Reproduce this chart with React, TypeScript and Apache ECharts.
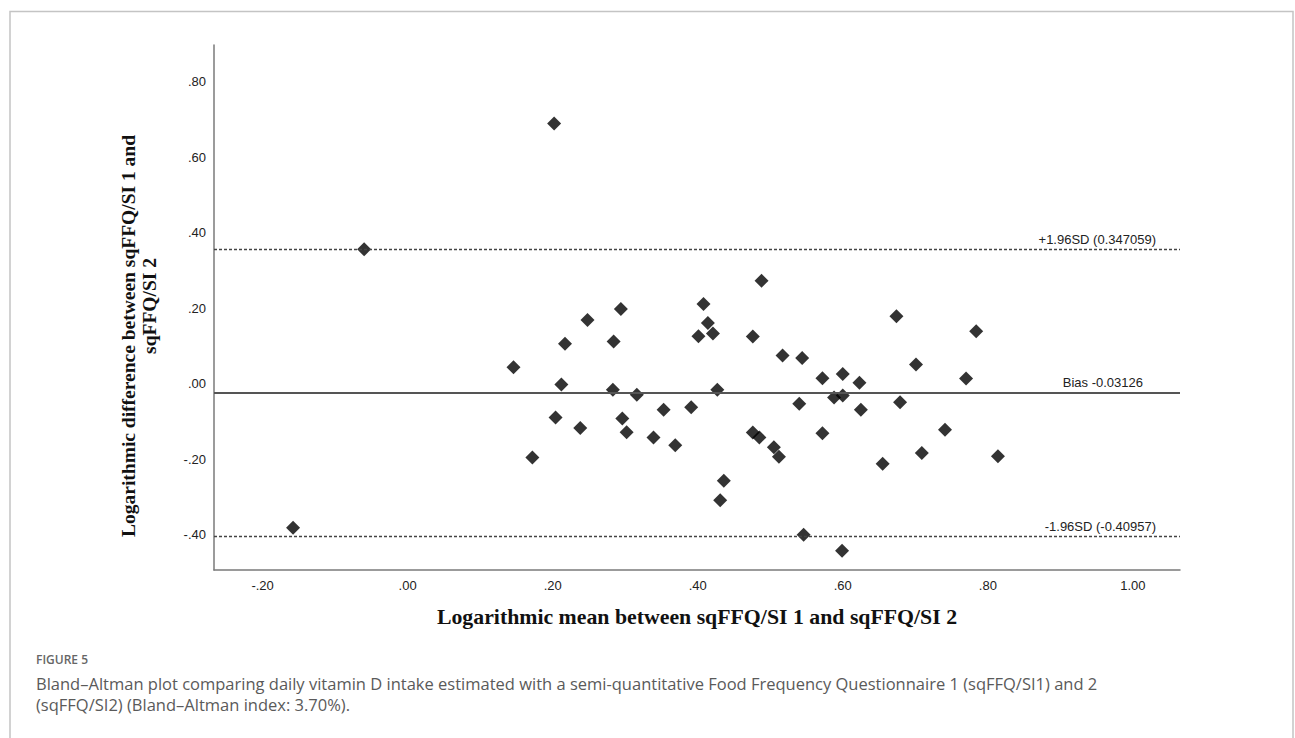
import React, { useEffect, useRef } from "react";
import * as echarts from "echarts";

// Logarithmic mean between sqFFQ/SI 1 and sqFFQ/SI 2 (x)
const meanValues = [
  -0.158, -0.06, 0.202, 0.146, 0.212, 0.217, 0.204, 0.172, 0.248, 0.238,
  0.284, 0.283, 0.294, 0.296, 0.302, 0.316, 0.339, 0.353, 0.369, 0.391,
  0.401, 0.408, 0.414, 0.421, 0.427, 0.431, 0.436, 0.476, 0.476, 0.485,
  0.488, 0.505, 0.512, 0.517, 0.54, 0.544, 0.546, 0.572, 0.572, 0.588,
  0.6, 0.6, 0.599, 0.623, 0.625, 0.655, 0.674, 0.679, 0.701, 0.709,
  0.741, 0.77, 0.784, 0.814,
];
// Logarithmic difference between sqFFQ/SI 1 and sqFFQ/SI 2 (y)
const diffValues = [
  -0.388, 0.349, 0.682, 0.037, -0.009, 0.099, -0.096, -0.202, 0.162, -0.124,
  0.105, -0.023, 0.191, -0.099, -0.135, -0.036, -0.149, -0.076, -0.17, -0.069,
  0.119, 0.204, 0.154, 0.126, -0.023, -0.315, -0.264, 0.118, -0.136, -0.149,
  0.266, -0.175, -0.2, 0.068, -0.06, 0.061, -0.407, 0.008, -0.138, -0.043,
  0.019, -0.038, -0.449, -0.004, -0.076, -0.219, 0.172, -0.056, 0.044, -0.19,
  -0.129, 0.007, 0.132, -0.199,
];

const xTickValues = [-0.2, 0, 0.2, 0.4, 0.6, 0.8, 1.0];
const yTickValues = [-0.4, -0.2, 0, 0.2, 0.4, 0.6, 0.8];

const refValues = [0.347059, -0.03126, -0.40957];
const refLabels = ["+1.96SD (0.347059)", "Bias -0.03126", "-1.96SD (-0.40957)"];
const refDashed = [true, false, true];

const xTitle = "Logarithmic mean between sqFFQ/SI 1 and sqFFQ/SI 2";
const yTitleLines = ["Logarithmic difference between sqFFQ/SI 1 and", "sqFFQ/SI 2"];
const captionHead = "FIGURE 5";
const captionLines = [
  "Bland\u2013Altman plot comparing daily vitamin D intake estimated with a semi-quantitative Food Frequency Questionnaire 1 (sqFFQ/SI1) and 2",
  "(sqFFQ/SI2) (Bland\u2013Altman index: 3.70%).",
];

const fmt = (v: number) => v.toFixed(2).replace(/^(-?)0\./, "$1.");

export default function App() {
  const ref = useRef<HTMLDivElement>(null);

  useEffect(() => {
    if (!ref.current) return;
    const chart = echarts.init(ref.current, undefined, { renderer: "svg" });
    const serifBold = 'bold 19.5px "Liberation Serif", serif';
    const axisLineStyle = { color: "#7a7a7a", width: 1.5 };
    const tickLabel = {
      color: "#222",
      fontSize: 13,
      fontFamily: '"Liberation Sans", Arial, sans-serif',
    };

    chart.setOption({
      animation: false,
      backgroundColor: "#fff",
      grid: { left: 214, top: 45, right: 115, bottom: 168, containLabel: false },
      xAxis: {
        type: "value",
        min: -0.267,
        max: 1.065,
        name: xTitle,
        nameLocation: "middle",
        nameGap: 36,
        nameTextStyle: {
          fontFamily: '"Liberation Serif", serif',
          fontWeight: "bold",
          fontSize: 21.8,
          color: "#111",
        },
        axisLine: { show: true, onZero: false, lineStyle: axisLineStyle },
        axisTick: { show: false, customValues: xTickValues },
        splitLine: { show: false },
        axisLabel: {
          ...tickLabel,
          margin: 9,
          customValues: xTickValues,
          formatter: (v: number) => fmt(v),
        },
      },
      yAxis: {
        type: "value",
        min: -0.5,
        max: 0.89,
        axisLine: { show: true, onZero: false, lineStyle: axisLineStyle },
        axisTick: { show: false, customValues: yTickValues },
        splitLine: { show: false },
        axisLabel: {
          ...tickLabel,
          margin: 8,
          verticalAlign: "top",
          lineHeight: 5,
          customValues: yTickValues,
          formatter: (v: number) => fmt(v),
        },
      },
      graphic: [
        {
          type: "rect",
          silent: true,
          shape: { x: 10, y: 11.5, width: 1283, height: 740 },
          style: { fill: "none", stroke: "#c4c4c4", lineWidth: 1.5 },
        },
        {
          type: "text",
          x: 128,
          y: 336,
          rotation: Math.PI / 2,
          style: {
            text: yTitleLines[0],
            font: serifBold,
            fill: "#111",
            align: "center",
            verticalAlign: "middle",
          },
        },
        {
          type: "text",
          x: 149,
          y: 306,
          rotation: Math.PI / 2,
          style: {
            text: yTitleLines[1],
            font: serifBold,
            fill: "#111",
            align: "center",
            verticalAlign: "middle",
          },
        },
        {
          type: "text",
          x: 36,
          y: 659,
          style: {
            text: captionHead,
            font: '600 12px "Open Sans", sans-serif',
            fill: "#666",
            verticalAlign: "middle",
          },
        },
        {
          type: "text",
          x: 36,
          y: 683,
          style: {
            text: captionLines[0],
            font: '16.5px "Open Sans", sans-serif',
            fill: "#5a5a5a",
            verticalAlign: "middle",
          },
        },
        {
          type: "text",
          x: 36,
          y: 704,
          style: {
            text: captionLines[1],
            font: '16.5px "Open Sans", sans-serif',
            fill: "#5a5a5a",
            verticalAlign: "middle",
          },
        },
      ],
      series: [
        {
          type: "scatter",
          symbol: "diamond",
          symbolSize: 14,
          itemStyle: { color: "#000" },
          data: meanValues.map((m, i) => [m, diffValues[i]]),
          z: 3,
          markLine: {
            silent: true,
            symbol: "none",
            animation: false,
            data: refValues.map((v, i) => ({
              yAxis: v,
              lineStyle: refDashed[i]
                ? { type: [3, 2], color: "#444", width: 1.3 }
                : { type: "solid", color: "#555", width: 2 },
              label: {
                show: true,
                position: "insideEndTop",
                formatter: refLabels[i],
                color: "#222",
                fontSize: 13,
                fontFamily: '"Liberation Sans", Arial, sans-serif',
                distance: [i === 1 ? 37 : 24, 3],
              },
            })),
          },
        },
      ],
    });

    return () => chart.dispose();
  }, []);

  return (
    <div
      ref={ref}
      style={{ position: "absolute", left: 0, top: 0, width: 1295, height: 738, background: "#fff" }}
    />
  );
}
